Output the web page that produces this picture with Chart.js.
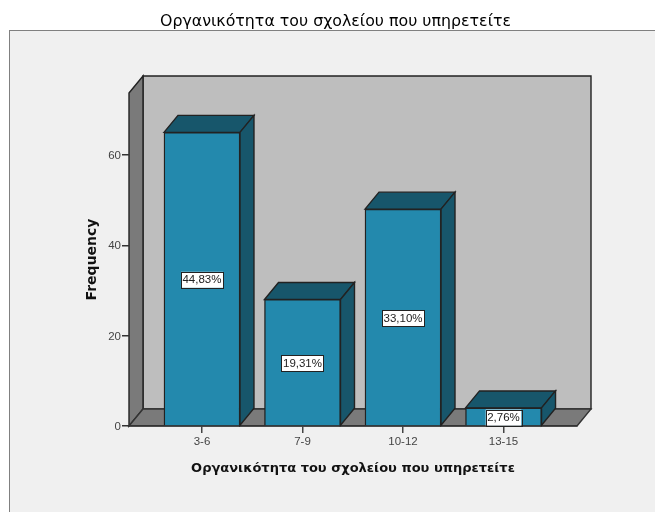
<!DOCTYPE html>
<html><head><meta charset="utf-8">
<style>html,body{margin:0;padding:0;background:#fff;overflow:hidden}canvas{display:block}</style>
<script src="https://cdn.jsdelivr.net/npm/chart.js@4"></script></head>
<body><div style="width:655px;height:512px;position:relative"><canvas id="c"></canvas></div>
<script>
const categories = ['3-6','7-9','10-12','13-15'];
const frequencies = [65,28,48,4];
const percentLabels = ['44,83%','19,31%','33,10%','2,76%'];
const yTicks = [0,20,40,60];
const titleText = 'Οργανικότητα του σχολείου που υπηρετείτε';
const xTitleText = 'Οργανικότητα του σχολείου που υπηρετείτε';
const yTitleText = 'Frequency';

const DX = 14, DY = 17;
const C = {panel:'#f0f0f0',frame:'#808080',back:'#bebebe',side:'#7a7a7a',front:'#2389ad',dark:'#17566b',line:'#222'};
function poly(ctx,pts,fill,stroke,w){
  ctx.beginPath();pts.forEach((p,i)=>i?ctx.lineTo(p[0],p[1]):ctx.moveTo(p[0],p[1]));ctx.closePath();
  if(fill){ctx.fillStyle=fill;ctx.fill();}
  if(stroke){ctx.strokeStyle=stroke;ctx.lineWidth=w||1.4;ctx.stroke();}
}
const scene = {
  id:'scene',
  afterLayout(chart){ const t=chart.titleBlock; if(t){t.left+=47;t.right+=47;} },
  beforeDraw(chart){
    const {ctx,chartArea:a}=chart, W=chart.width, H=chart.height;
    ctx.save();
    ctx.fillStyle='#fff';ctx.fillRect(0,0,W,H);
    ctx.fillStyle=C.panel;ctx.fillRect(9,30,W,H);
    ctx.strokeStyle=C.frame;ctx.lineWidth=1;ctx.strokeRect(9.5,30.5,W+20,H+20);
    poly(ctx,[[a.left+DX,a.top-DY],[a.right+DX,a.top-DY],[a.right+DX,a.bottom-DY],[a.left+DX,a.bottom-DY]],C.back,C.line);
    poly(ctx,[[a.left,a.top],[a.left+DX,a.top-DY],[a.left+DX,a.bottom-DY],[a.left,a.bottom]],C.side,C.line);
    poly(ctx,[[a.left,a.bottom],[a.left+DX,a.bottom-DY],[a.right+DX,a.bottom-DY],[a.right,a.bottom]],C.side,'#333');
    ctx.restore();
  },
  beforeDatasetsDraw(chart){
    const ctx=chart.ctx;
    ctx.save();
    chart.getDatasetMeta(0).data.forEach(b=>{
      const h=b.getProps(['x','y','base','width']);
      const l=h.x-h.width/2,r=h.x+h.width/2;
      poly(ctx,[[l,h.y],[l+DX,h.y-DY],[r+DX,h.y-DY],[r,h.y]],C.dark,C.line);
      poly(ctx,[[r,h.y],[r+DX,h.y-DY],[r+DX,h.base-DY],[r,h.base]],C.dark,C.line);
    });
    ctx.restore();
  },
  afterDatasetsDraw(chart){
    const ctx=chart.ctx;
    ctx.save();
    ctx.font='11.5px "Liberation Sans"';ctx.textAlign='center';ctx.textBaseline='middle';
    chart.getDatasetMeta(0).data.forEach((b,i)=>{
      const h=b.getProps(['x','y','base']);
      const cy=(h.y+h.base)/2+1, tw=ctx.measureText(percentLabels[i]).width+3, th=16;
      ctx.fillStyle='#fff';ctx.fillRect(h.x-tw/2,cy-th/2,tw,th);
      ctx.strokeStyle='#222';ctx.lineWidth=1;
      ctx.strokeRect(Math.round(h.x-tw/2)+.5,Math.round(cy-th/2)+.5,Math.round(tw),th);
      ctx.fillStyle='#222';ctx.fillText(percentLabels[i],h.x,cy+.5);
    });
    ctx.restore();
  }
};
new Chart(document.getElementById('c'),{
  type:'bar',
  data:{labels:categories,datasets:[{
    data:frequencies.map((v,i)=>({x:i,y:v})),
    backgroundColor:C.front,borderColor:C.line,borderWidth:1.4,barThickness:76
  }]},
  plugins:[scene],
  options:{
    responsive:true,maintainAspectRatio:false,animation:false,
    layout:{padding:{left:0,right:78,top:0,bottom:0}},
    plugins:{
      legend:{display:false},tooltip:{enabled:false},
      title:{display:true,text:titleText,color:'#000',font:{family:'"DejaVu Sans"',size:15.8,weight:'normal'},padding:{top:12,bottom:62}}
    },
    scales:{
      x:{type:'linear',min:-0.726,max:3.731,offset:false,
        afterBuildTicks(s){s.ticks=categories.map((_,i)=>({value:i}));},
        afterFit(s){s.height=86;},
        border:{display:true,color:'#333',width:1.5},
        grid:{offset:false,drawOnChartArea:false,drawTicks:true,tickLength:7,color:'#444',lineWidth:1.5},
        ticks:{autoSkip:false,maxRotation:0,color:'#444',padding:2,font:{family:'"Liberation Sans"',size:11.5},callback:v=>categories[v]},
        title:{display:true,text:xTitleText,color:'#111',font:{family:'"DejaVu Sans"',size:13,weight:'bold'},padding:{top:8,bottom:36}}
      },
      y:{min:0,max:73.72,
        afterBuildTicks(s){s.ticks=yTicks.map(v=>({value:v}));},
        afterFit(s){s.width=129;},
        border:{display:false},
        grid:{drawOnChartArea:false,drawTicks:true,tickLength:7,color:'#333',lineWidth:1.5},
        ticks:{color:'#444',padding:1,labelOffset:1,font:{family:'"Liberation Sans"',size:11.5}},
        title:{display:true,text:yTitleText,color:'#111',font:{family:'"DejaVu Sans"',size:14,weight:'bold'},padding:{top:84,bottom:0}}
      }
    }
  }
});
</script></body></html>
